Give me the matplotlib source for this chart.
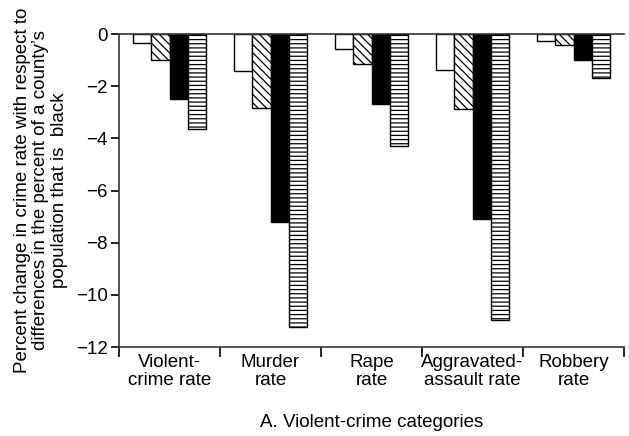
import matplotlib
matplotlib.use("Agg")
import matplotlib.pyplot as plt
import numpy as np

plt.rcParams['font.family'] = ['Liberation Sans', 'DejaVu Sans']
plt.rcParams['hatch.linewidth'] = 0.9

### Data
categories = ["Violent-\ncrime rate", "Murder\nrate", "Rape\nrate",
              "Aggravated-\nassault rate", "Robbery\nrate"]
series_white = [-0.35, -1.42, -0.58, -1.39, -0.28]
series_diag = [-1.0, -2.85, -1.16, -2.86, -0.43]
series_black = [-2.5, -7.19, -2.67, -7.09, -0.98]
series_horiz = [-3.65, -11.23, -4.29, -10.97, -1.70]
yticks = [0, -2, -4, -6, -8, -10, -12]

### Plot
fs = 13.5
fig = plt.figure(figsize=(6.29, 4.36), dpi=100)
ax = fig.add_axes([119/629, 1 - 347/436, (624-119)/629, (347-34)/436])

x = np.arange(len(categories))
w = 0.18
styles = [
    (series_white, 'white', ''),
    (series_diag, 'white', '\\\\\\\\'),
    (series_black, 'black', ''),
    (series_horiz, 'white', '----'),
]
for k, (vals, fc, hatch) in enumerate(styles):
    ax.bar(x + (k - 1.5) * w, vals, w, color=fc, edgecolor='black',
           hatch=hatch, linewidth=1.0)

ax.set_xlim(-0.5, len(categories) - 0.5)
ax.set_ylim(-12, 0)
ax.set_yticks(yticks)
ax.set_yticklabels(["0" if t == 0 else "\u2212%d" % -t for t in yticks], fontsize=fs)

# category separators as ticks on the bottom axis
ax.set_xticks(np.arange(len(categories) + 1) - 0.5)
ax.set_xticklabels([])
ax.set_xticks(x, minor=True)
ax.set_xticklabels(categories, minor=True, fontsize=fs, linespacing=1.1)
ax.tick_params(axis='x', which='minor', length=0, pad=5)
ax.tick_params(axis='x', which='major', length=7, width=1.2, direction='out')
ax.tick_params(axis='y', length=6, width=1.2, direction='out', pad=2)

for s in ['left', 'bottom', 'top']:
    ax.spines[s].set_linewidth(1.2)
    ax.spines[s].set_color('#333333')
ax.spines['right'].set_visible(False)

ax.set_xlabel("A. Violent-crime categories", fontsize=fs, labelpad=18)
ax.set_ylabel("Percent change in crime rate with respect to\n"
              "differences in the percent of a county\u2019s\n"
              "population that is  black", fontsize=fs, linespacing=1.1,
              labelpad=6)

plt.savefig("out.png", dpi=100)
